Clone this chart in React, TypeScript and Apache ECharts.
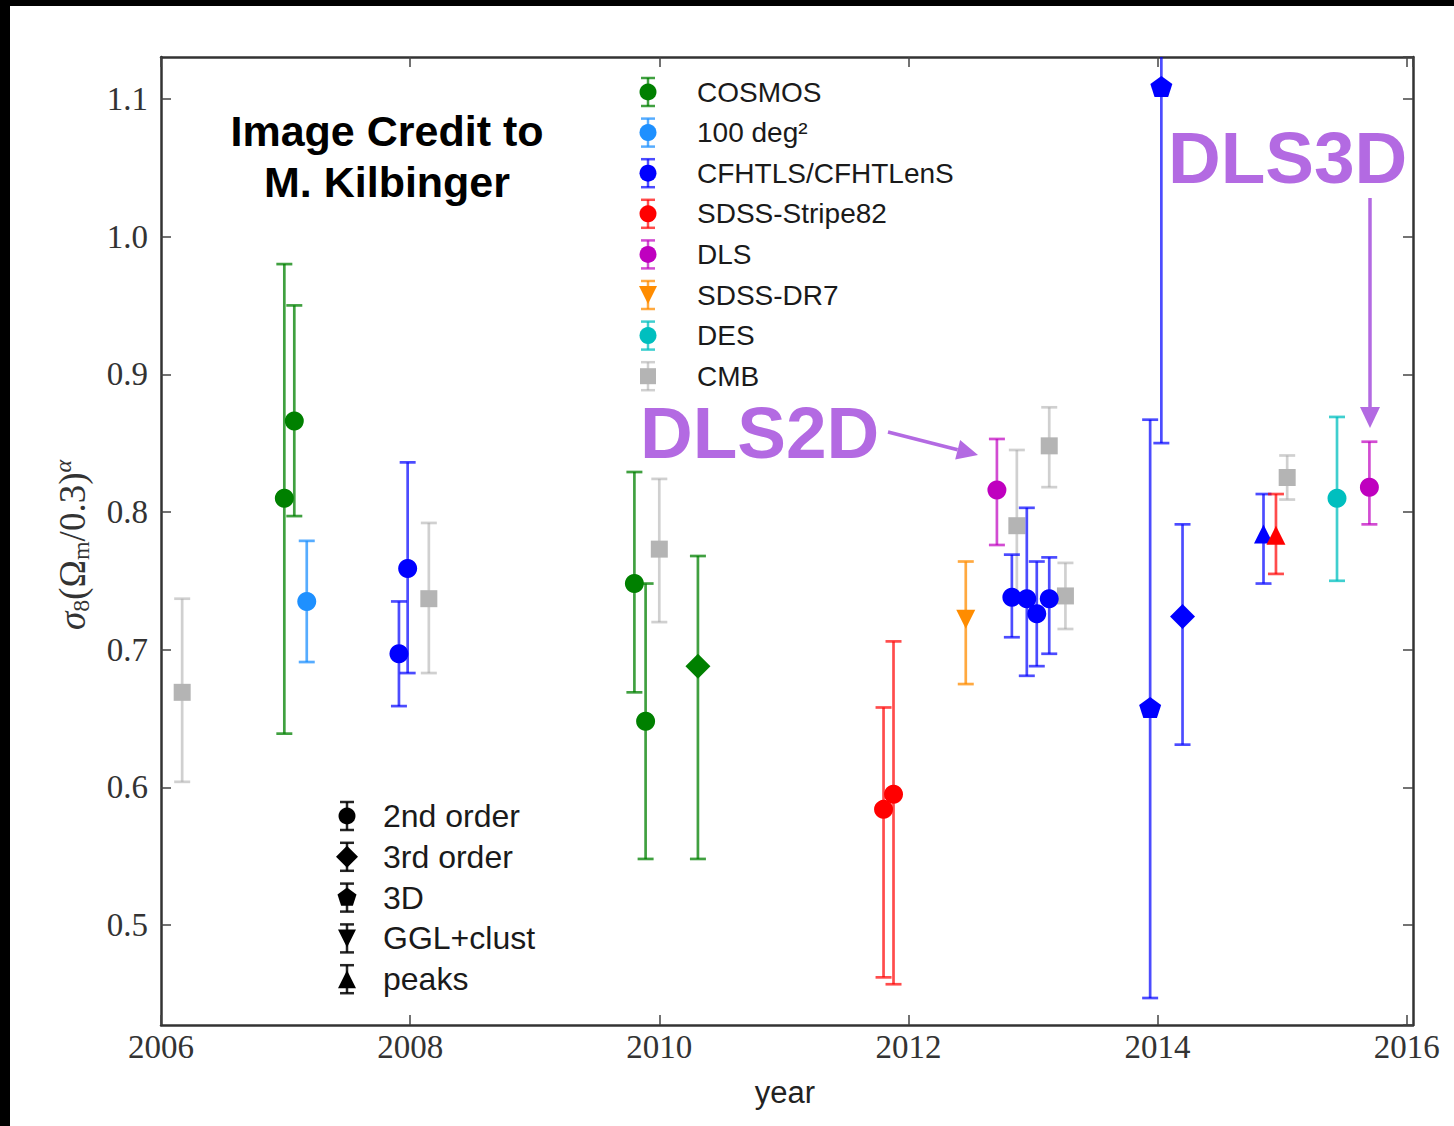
import React, { useEffect, useRef } from 'react';
import * as echarts from 'echarts';

// Each point: [year, sigma8 (Omega_m/0.3)^alpha, lower bound, upper bound, method]
type Pt = [number, number, number, number, string];

const cosmos: Pt[] = [
  [2006.99, 0.810, 0.639, 0.980, '2nd'],
  [2007.07, 0.866, 0.797, 0.950, '2nd'],
  [2009.80, 0.748, 0.669, 0.829, '2nd'],
  [2009.89, 0.648, 0.548, 0.748, '2nd'],
  [2010.31, 0.688, 0.548, 0.768, '3rd'],
];
const deg100: Pt[] = [[2007.17, 0.735, 0.691, 0.779, '2nd']];
const cfhtls: Pt[] = [
  [2007.91, 0.697, 0.659, 0.735, '2nd'],
  [2007.98, 0.759, 0.683, 0.836, '2nd'],
  [2012.83, 0.738, 0.709, 0.769, '2nd'],
  [2012.95, 0.737, 0.681, 0.803, '2nd'],
  [2013.03, 0.726, 0.688, 0.764, '2nd'],
  [2013.13, 0.737, 0.697, 0.767, '2nd'],
  [2013.94, 0.658, 0.447, 0.867, '3D'],
  [2014.03, 1.109, 0.850, 1.370, '3D'],
  [2014.20, 0.724, 0.631, 0.791, '3rd'],
  [2014.85, 0.784, 0.748, 0.813, 'peaks'],
];
const stripe82: Pt[] = [
  [2011.80, 0.584, 0.462, 0.658, '2nd'],
  [2011.88, 0.595, 0.457, 0.706, '2nd'],
  [2014.95, 0.783, 0.755, 0.813, 'peaks'],
];
const dls: Pt[] = [
  [2012.71, 0.816, 0.776, 0.853, '2nd'],
  [2015.70, 0.818, 0.791, 0.851, '2nd'],
];
const dr7: Pt[] = [[2012.46, 0.722, 0.675, 0.764, 'GGL']];
const des: Pt[] = [[2015.44, 0.810, 0.750, 0.869, '2nd']];
const cmb: Pt[] = [
  [2006.17, 0.669, 0.604, 0.737, 'cmb'],
  [2008.15, 0.737, 0.683, 0.792, 'cmb'],
  [2010.00, 0.773, 0.720, 0.824, 'cmb'],
  [2012.87, 0.790, 0.735, 0.845, 'cmb'],
  [2013.13, 0.848, 0.818, 0.876, 'cmb'],
  [2013.26, 0.739, 0.715, 0.763, 'cmb'],
  [2015.04, 0.825, 0.809, 0.841, 'cmb'],
];

const xTickYears = [2006, 2008, 2010, 2012, 2014, 2016];
const methodNames = ['2nd order', '3rd order', '3D', 'GGL+clust', 'peaks'];
const methodKeys = ['2nd', '3rd', '3D', 'GGL', 'peaks'];

const surveys = [
  { name: 'COSMOS', pts: cosmos, color: '#008000', bar: 'rgba(0,128,0,0.75)', legendKind: '2nd', z: 3 },
  { name: '100 deg²', pts: deg100, color: '#1e90ff', bar: 'rgba(30,144,255,0.75)', legendKind: '2nd', z: 3 },
  { name: 'CFHTLS/CFHTLenS', pts: cfhtls, color: '#0000ff', bar: 'rgba(0,0,255,0.7)', legendKind: '2nd', z: 3 },
  { name: 'SDSS-Stripe82', pts: stripe82, color: '#ff0000', bar: 'rgba(255,0,0,0.7)', legendKind: '2nd', z: 3 },
  { name: 'DLS', pts: dls, color: '#bf00bf', bar: 'rgba(191,0,191,0.7)', legendKind: '2nd', z: 3 },
  { name: 'SDSS-DR7', pts: dr7, color: '#ff8c00', bar: 'rgba(255,140,0,0.75)', legendKind: 'GGL', z: 3 },
  { name: 'DES', pts: des, color: '#00bfbf', bar: 'rgba(0,191,191,0.75)', legendKind: '2nd', z: 3 },
  { name: 'CMB', pts: cmb, color: '#b4b4b4', bar: 'rgba(170,170,170,0.55)', legendKind: 'cmb', z: 1 },
];

const PENTAGON = 'path://M0,-1L0.951,-0.309L0.588,0.809L-0.588,0.809L-0.951,-0.309Z';

function symbolFor(kind: string) {
  switch (kind) {
    case '3rd': return { symbol: 'diamond', symbolSize: [25, 25], symbolRotate: 0 };
    case '3D': return { symbol: PENTAGON, symbolSize: [22, 21], symbolRotate: 0 };
    case 'GGL': return { symbol: 'triangle', symbolSize: [19, 19], symbolRotate: 180 };
    case 'peaks': return { symbol: 'triangle', symbolSize: [19, 19], symbolRotate: 0 };
    case 'cmb': return { symbol: 'rect', symbolSize: [17, 17], symbolRotate: 0 };
    default: return { symbol: 'circle', symbolSize: 19, symbolRotate: 0 };
  }
}

const SANS = '"Liberation Sans", Arial, Helvetica, sans-serif';
const SERIF = '"Liberation Serif", "DejaVu Serif", serif';
const PURPLE = '#b36ae2';

function markerShape(kind: string, x: number, y: number, color: string): any {
  const style = { fill: color };
  switch (kind) {
    case '3rd':
      return { type: 'polygon', shape: { points: [[x, y - 11], [x + 11, y], [x, y + 11], [x - 11, y]] }, style };
    case '3D': {
      const r = 10;
      const pts = [0, 1, 2, 3, 4].map((i) => {
        const a = -Math.PI / 2 + (i * 2 * Math.PI) / 5;
        return [x + r * Math.cos(a), y + r * Math.sin(a)];
      });
      return { type: 'polygon', shape: { points: pts }, style };
    }
    case 'GGL':
      return { type: 'polygon', shape: { points: [[x - 9, y - 9], [x + 9, y - 9], [x, y + 9]] }, style };
    case 'peaks':
      return { type: 'polygon', shape: { points: [[x, y - 9], [x + 9, y + 9], [x - 9, y + 9]] }, style };
    case 'cmb':
      return { type: 'rect', shape: { x: x - 8, y: y - 8, width: 16, height: 16 }, style };
    default:
      return { type: 'circle', shape: { cx: x, cy: y, r: 8.5 }, style };
  }
}

function legendGlyph(kind: string, x: number, y: number, color: string, bar: string): any[] {
  const ls = { stroke: bar, lineWidth: 2.5 };
  return [
    { type: 'line', shape: { x1: x, y1: y - 14, x2: x, y2: y + 14 }, style: ls },
    { type: 'line', shape: { x1: x - 7, y1: y - 14, x2: x + 7, y2: y - 14 }, style: ls },
    { type: 'line', shape: { x1: x - 7, y1: y + 14, x2: x + 7, y2: y + 14 }, style: ls },
    markerShape(kind, x, y, color),
  ];
}

function arrow(x1: number, y1: number, x2: number, y2: number, color: string): any[] {
  const dx = x2 - x1, dy = y2 - y1;
  const len = Math.hypot(dx, dy);
  const ux = dx / len, uy = dy / len;
  const hl = 21, hw = 10;
  const bx = x2 - ux * hl, by = y2 - uy * hl;
  return [
    { type: 'line', shape: { x1, y1, x2: bx, y2: by }, style: { stroke: color, lineWidth: 3.5 } },
    {
      type: 'polygon',
      shape: { points: [[x2, y2], [bx - uy * hw, by + ux * hw], [bx + uy * hw, by - ux * hw]] },
      style: { fill: color },
    },
  ];
}

function buildOption(): any {
  const series: any[] = [];
  surveys.forEach((s) => {
    series.push({
      type: 'custom',
      name: s.name + ' errors',
      z: s.z,
      silent: true,
      dimensions: ['year', 'value', 'lo', 'hi'],
      encode: { x: 0, y: 1 },
      data: s.pts.map((p) => [p[0], p[1], p[2], p[3]]),
      renderItem: (params: any, api: any) => {
        const x = api.value(0);
        const pLo = api.coord([x, api.value(2)]);
        const pHi = api.coord([x, api.value(3)]);
        const cs = params.coordSys;
        const top = cs.y, bottom = cs.y + cs.height;
        const yTop = Math.max(pHi[1], top);
        const yBot = Math.min(pLo[1], bottom);
        const style = { stroke: s.bar, lineWidth: 2.7, fill: null };
        const children: any[] = [
          { type: 'line', shape: { x1: pLo[0], y1: yBot, x2: pLo[0], y2: yTop }, style },
        ];
        if (pHi[1] >= top) {
          children.push({ type: 'line', shape: { x1: pHi[0] - 8, y1: pHi[1], x2: pHi[0] + 8, y2: pHi[1] }, style });
        }
        if (pLo[1] <= bottom) {
          children.push({ type: 'line', shape: { x1: pLo[0] - 8, y1: pLo[1], x2: pLo[0] + 8, y2: pLo[1] }, style });
        }
        return { type: 'group', children };
      },
    });
    series.push({
      type: 'scatter',
      name: s.name,
      z: s.z + 1,
      silent: true,
      itemStyle: { color: s.color, opacity: 1 },
      data: s.pts.map((p) => ({ value: [p[0], p[1]], ...symbolFor(p[4]) })),
    });
  });

  const graphic: any[] = [];
  // legend of surveys
  surveys.forEach((s, i) => {
    const y = 92 + i * 40.6;
    graphic.push(...legendGlyph(s.legendKind, 648, y, s.color, s.bar));
    graphic.push({
      type: 'text', x: 697, y,
      style: { text: s.name, fontSize: 28, fontFamily: SANS, fill: '#1a1a1a', align: 'left', verticalAlign: 'middle' },
    });
  });
  // legend of statistics
  methodKeys.forEach((k, i) => {
    const y = 816 + i * 40.8;
    graphic.push(...legendGlyph(k, 347, y, '#000', 'rgba(0,0,0,0.85)'));
    graphic.push({
      type: 'text', x: 383, y,
      style: { text: methodNames[i], fontSize: 32, fontFamily: SANS, fill: '#1a1a1a', align: 'left', verticalAlign: 'middle' },
    });
  });
  // credit
  graphic.push({
    type: 'text', x: 387, y: 156,
    style: {
      text: 'Image Credit to\nM. Kilbinger', fontSize: 43, fontWeight: 'bold', fontFamily: SANS,
      fill: '#000', align: 'center', verticalAlign: 'middle', lineHeight: 51,
    },
  });
  // DLS callouts
  graphic.push({
    type: 'text', x: 640, y: 432,
    style: { text: 'DLS2D', fontSize: 73, fontWeight: 'bold', fontFamily: SANS, fill: PURPLE, align: 'left', verticalAlign: 'middle' },
  });
  graphic.push(...arrow(888, 432, 978, 455, PURPLE));
  graphic.push({
    type: 'text', x: 1168, y: 157,
    style: { text: 'DLS3D', fontSize: 73, fontWeight: 'bold', fontFamily: SANS, fill: PURPLE, align: 'left', verticalAlign: 'middle' },
  });
  graphic.push(...arrow(1370, 198, 1370, 428, PURPLE));
  // y axis title
  graphic.push({
    type: 'text', x: 72, y: 545, rotation: Math.PI / 2,
    style: {
      text: '{i|σ}{s|8}{m|(Ω}{s|m}{m|/0.3)}{p|α}',
      align: 'center', verticalAlign: 'middle', fill: '#333',
      rich: {
        i: { fontSize: 37, fontFamily: SERIF, fontStyle: 'italic', lineHeight: 42, fill: '#333' },
        m: { fontSize: 37, fontFamily: SERIF, lineHeight: 42, fill: '#333' },
        s: { fontSize: 24, fontFamily: SERIF, lineHeight: 24, verticalAlign: 'bottom', fill: '#333' },
        p: { fontSize: 24, fontFamily: SERIF, fontStyle: 'italic', lineHeight: 24, verticalAlign: 'top', fill: '#333' },
      },
    },
  });
  // x axis title
  graphic.push({
    type: 'text', x: 785, y: 1092,
    style: { text: 'year', fontSize: 31, fontFamily: SANS, fill: '#222', align: 'center', verticalAlign: 'middle' },
  });
  // dark page edges
  graphic.push({ type: 'rect', shape: { x: 0, y: 0, width: 1454, height: 6 }, style: { fill: '#000' }, z: 100 });
  graphic.push({ type: 'rect', shape: { x: 0, y: 0, width: 10, height: 1126 }, style: { fill: '#000' }, z: 100 });

  const axisLine = { show: true, lineStyle: { color: '#333', width: 2.5 } };
  const axisTick = { show: true, inside: true, length: 10, lineStyle: { color: '#444', width: 1.5 } };
  const xFmt = (v: number) => (xTickYears.includes(Math.round(v)) && Math.abs(v - Math.round(v)) < 1e-6 ? String(Math.round(v)) : '');
  const yFmt = (v: number) => (Math.abs(v * 10 - Math.round(v * 10)) < 1e-6 ? v.toFixed(1) : '');

  return {
    animation: false,
    backgroundColor: '#fff',
    grid: { left: 161, top: 57, right: 41, bottom: 101, containLabel: false, outerBoundsMode: 'none', show: false },
    xAxis: [
      {
        type: 'value', min: 2006, max: 2016.05, interval: 2, position: 'bottom',
        axisLine, axisTick, splitLine: { show: false },
        axisLabel: { show: true, formatter: xFmt, fontFamily: SERIF, fontSize: 33, color: '#333', margin: 5, showMaxLabel: false },
      },
      {
        type: 'value', min: 2006, max: 2016.05, interval: 2, position: 'top',
        axisLine, axisTick, splitLine: { show: false }, axisLabel: { show: false },
      },
    ],
    yAxis: [
      {
        type: 'value', min: 0.4274, max: 1.1304, splitNumber: 7, position: 'left',
        axisLine, axisTick, splitLine: { show: false },
        axisLabel: { show: true, formatter: yFmt, fontFamily: SERIF, fontSize: 33, color: '#333', margin: 13, showMinLabel: false, showMaxLabel: false },
      },
      {
        type: 'value', min: 0.4274, max: 1.1304, splitNumber: 7, position: 'right',
        axisLine, axisTick, splitLine: { show: false }, axisLabel: { show: false },
      },
    ],
    series,
    graphic,
  };
}

export default function App() {
  const ref = useRef<HTMLDivElement>(null);
  useEffect(() => {
    if (!ref.current) return;
    const chart = echarts.init(ref.current, undefined, { renderer: 'svg' });
    chart.setOption(buildOption());
    return () => chart.dispose();
  }, []);
  return (
    <div style={{ position: 'fixed', left: 0, top: 0, width: 1454, height: 1126, background: '#fff' }}>
      <div ref={ref} style={{ width: 1454, height: 1126 }} />
    </div>
  );
}
